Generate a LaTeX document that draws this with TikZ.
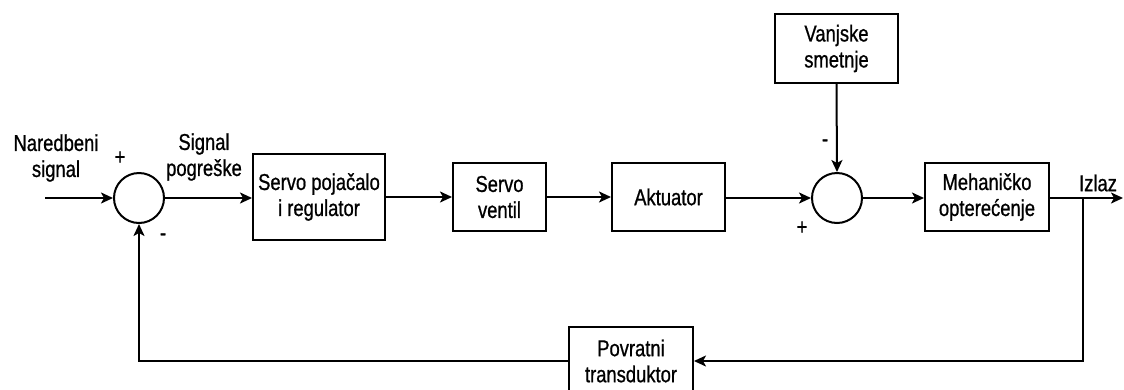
\documentclass[tikz,border=0pt]{standalone}
\usepackage{fontspec}
\setmainfont{Liberation Sans}[FakeStretch=0.8,FakeBold=0.8]
\usetikzlibrary{arrows.meta}
\begin{document}
\begin{tikzpicture}[x=1pt,y=-1pt,
  font=\fontsize{23}{26}\selectfont,
  blk/.style={draw, line width=2pt, inner sep=0pt, align=center},
  sumj/.style={draw, circle, line width=2pt, minimum size=50pt, inner sep=0pt},
  lbl/.style={inner sep=0pt, align=center},
  wire/.style={line width=2pt},
  arr/.style={wire, -{Stealth[length=12pt,width=11pt,inset=3pt]}}]
\useasboundingbox (0,0) rectangle (1124,389);
\clip (0,0) rectangle (1124,389);
\fill[white] (0,0) rectangle (1124,389);
\node[sumj] (s1) at (139,198) {};
\node[blk, minimum width=132pt, minimum height=86pt] (b1) at (319,197) {Servo pojačalo\\i regulator};
\node[blk, minimum width=93pt, minimum height=68pt] (b2) at (499.5,197) {Servo\\ventil};
\node[blk, minimum width=113pt, minimum height=68pt] (b3) at (668.5,197) {Aktuator};
\node[sumj] (s2) at (837,198) {};
\node[blk, minimum width=123pt, minimum height=69pt] (vs) at (836.5,48.5) {Vanjske\\smetnje};
\node[blk, minimum width=124pt, minimum height=68pt] (mo) at (987,197) {Mehaničko\\opterećenje};
\node[blk, minimum width=124pt, minimum height=68pt] (pt) at (631,361) {Povratni\\transduktor};
\coordinate (in) at (45,198);
\coordinate (br) at (1083,198);
\coordinate (out) at (1123,198);
\coordinate (c1) at (1083,361);
\coordinate (c2) at (139,361);
\draw[arr] (in) -- (s1.west);
\draw[arr] (s1.east) -- (s1.east -| b1.west);
\draw[arr] (b1.east |- b2.west) -- (b2.west);
\draw[arr] (b2.east) -- (b3.west);
\draw[arr] (b3.east |- s2.west) -- (s2.west);
\draw[arr] (vs.south) -- (s2.north);
\draw[arr] (s2.east) -- (s2.east -| mo.west);
\draw[arr] (mo.east |- out) -- (out);
\draw[arr] (br) -- (c1) -- (pt.east |- c1);
\draw[arr] (pt.west |- c2) -- (c2) -- (s1.south);
\node[lbl] (t1) at (56,158) {Naredbeni\\signal};
\node[lbl] (t2) at (204,157) {Signal\\pogreške};
\node[lbl] (p1) at (120,158) {+};
\node[lbl] (m1) at (163,237) {-};
\node[lbl] (m2) at (825,143) {-};
\node[lbl] (p2) at (802,228) {+};
\node[lbl] (t3) at (1098,183) {Izlaz};
\end{tikzpicture}
\end{document}
